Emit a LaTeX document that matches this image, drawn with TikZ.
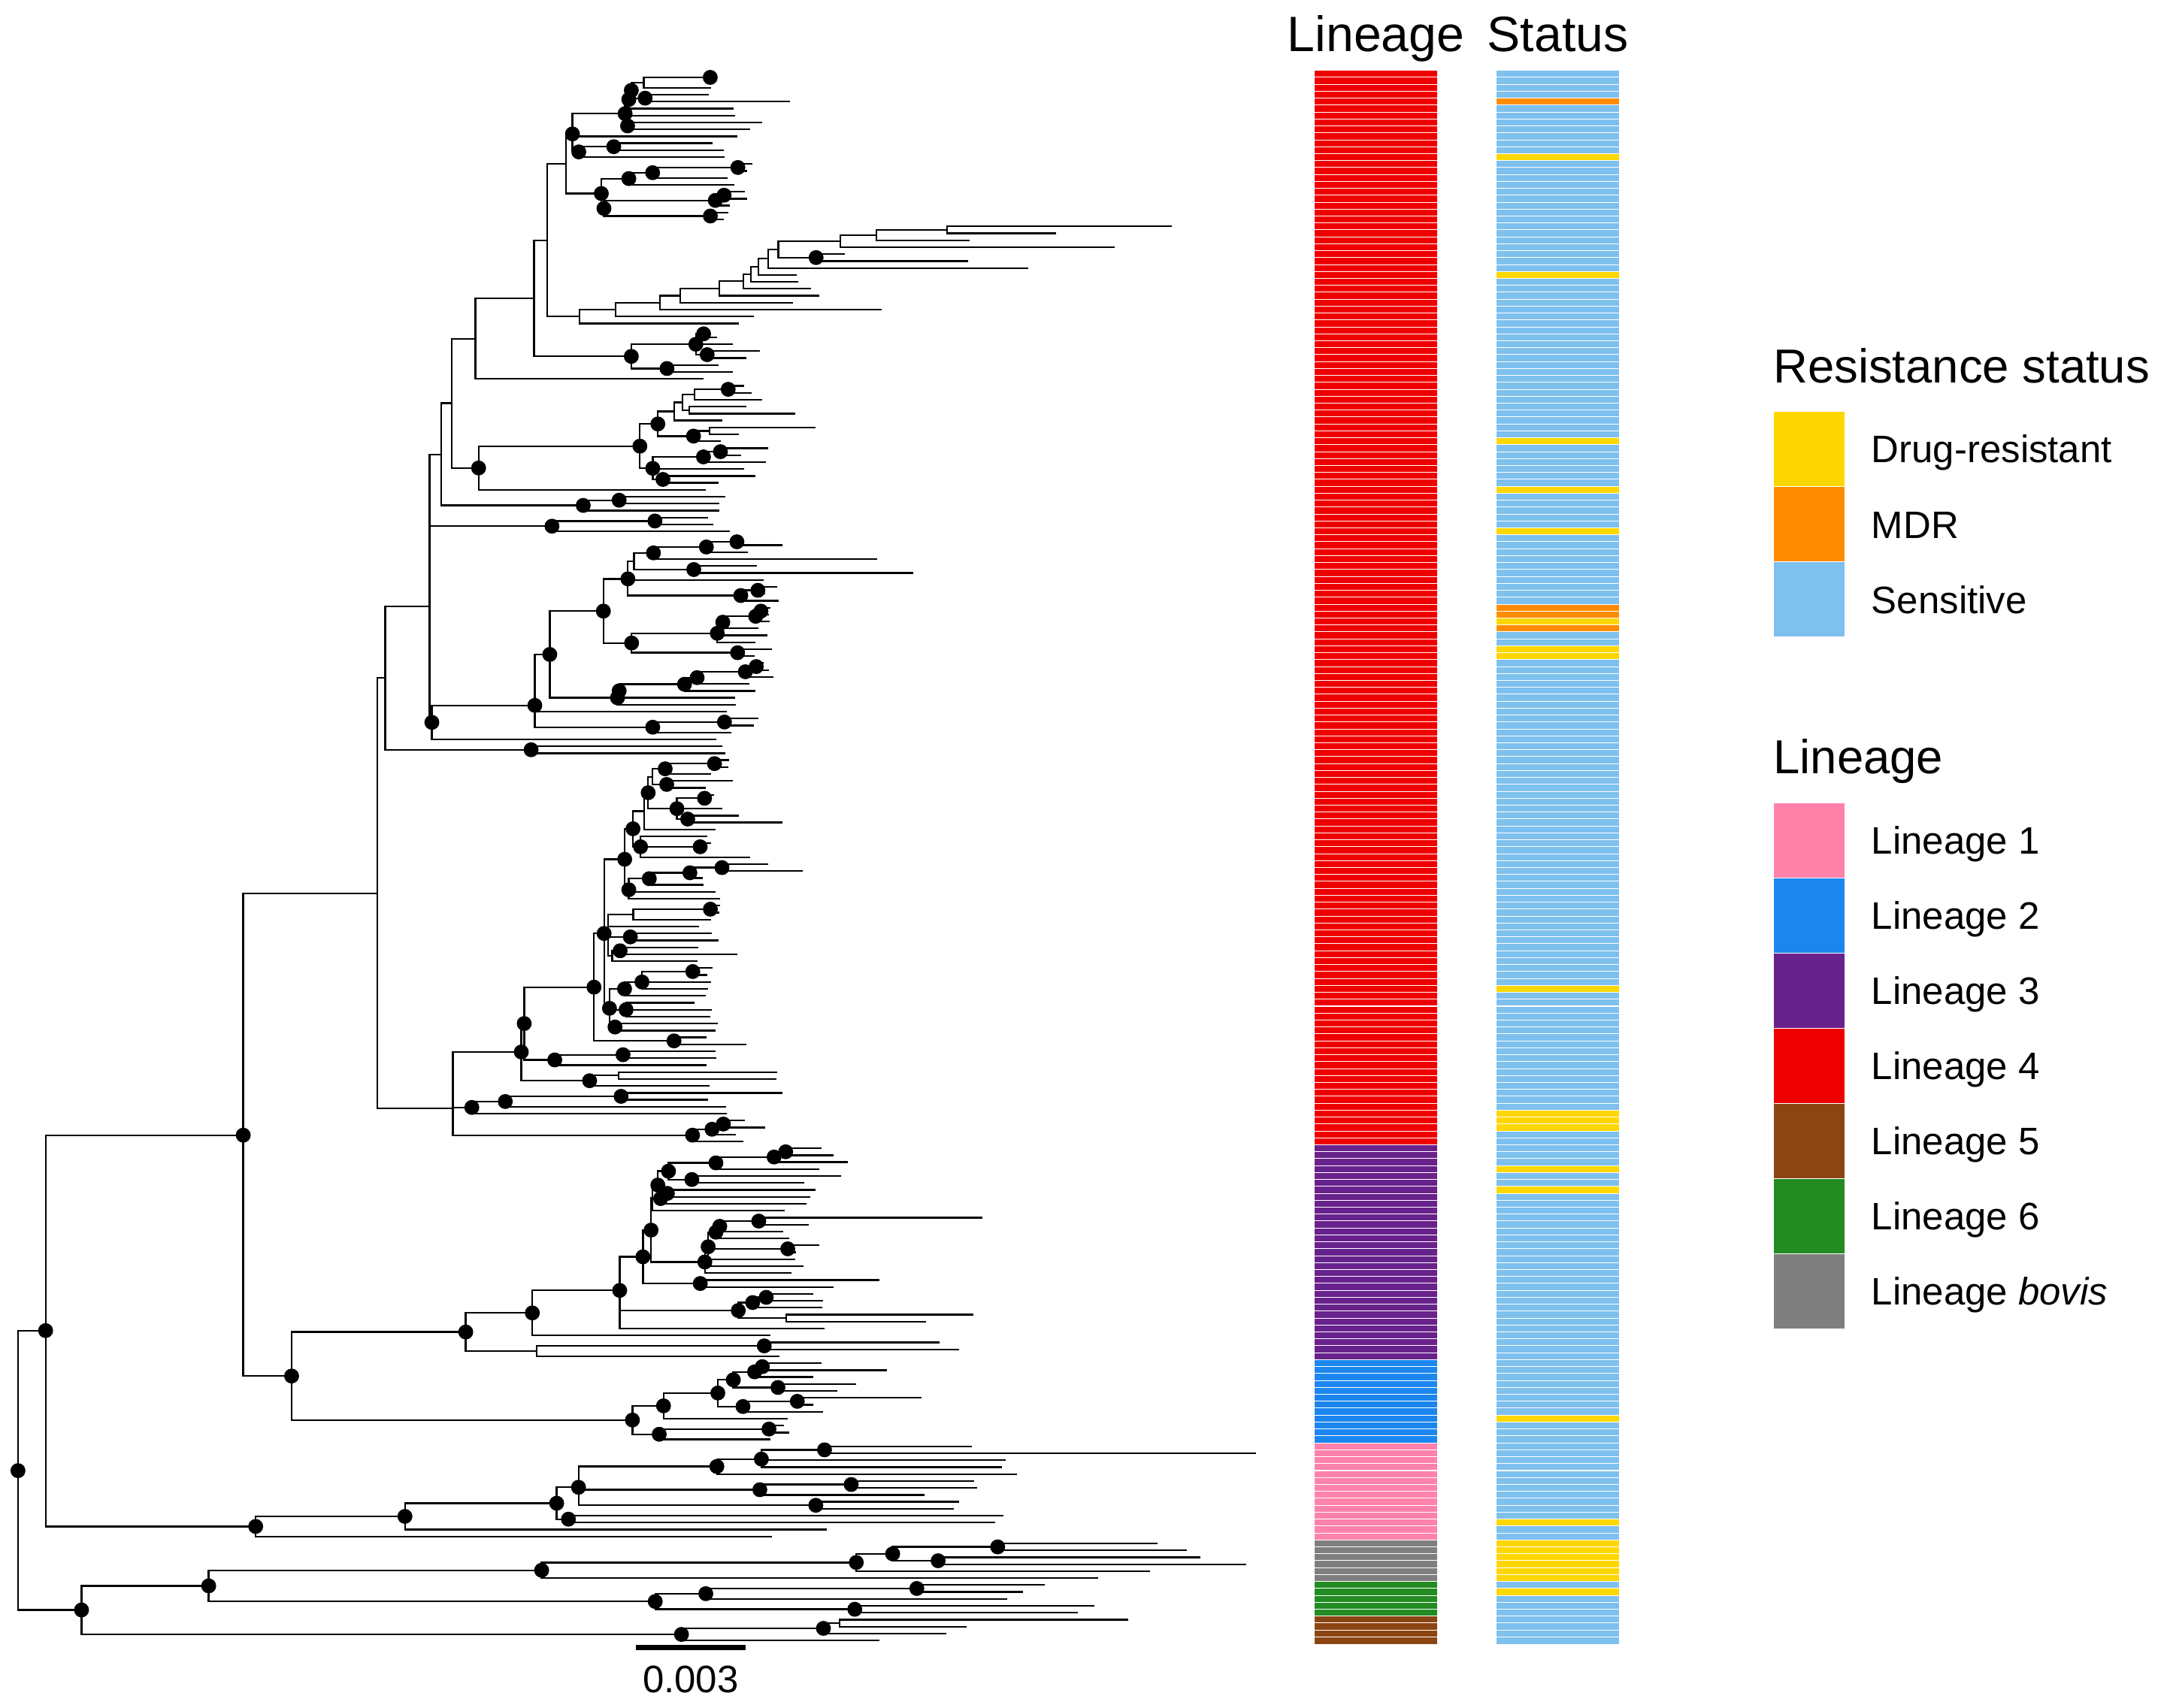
\documentclass[tikz,border=0pt]{standalone}
\usepackage{fontspec}
\setmainfont{Liberation Sans}
\definecolor{cLa}{HTML}{FF82AB}
\definecolor{cLb}{HTML}{1C86EE}
\definecolor{cLc}{HTML}{68228B}
\definecolor{cLd}{HTML}{EE0000}
\definecolor{cLe}{HTML}{8B4513}
\definecolor{cLf}{HTML}{228B22}
\definecolor{cLg}{HTML}{7F7F7F}
\definecolor{cDR}{HTML}{FFD700}
\definecolor{cMDR}{HTML}{FF8C00}
\definecolor{cSen}{HTML}{7EC0EE}
\tikzset{br/.style={line width=1.25pt,line cap=rect},
  sep/.style={white,line width=0.55pt},
  lbox/.style={draw=white,line width=0.6pt},
  ttl/.style={anchor=base west,inner sep=0pt,font=\fontsize{34.5}{40}\selectfont},
  hdr/.style={anchor=base,inner sep=0pt,font=\fontsize{36}{42}\selectfont},
  lab/.style={anchor=base west,inner sep=0pt,font=\fontsize{27.7}{32}\selectfont}}
\newcommand\Yr[1]{53.5+5.017*(#1)}
\newcommand\tp[3]{\draw[br] (#1,{\Yr{#3}}) -- (#2,{\Yr{#3}});}
\newcommand\nn[5]{\draw[br] (#1,{\Yr{#3}}) -- (#2,{\Yr{#3}}); \draw[br] (#2,{\Yr{#4}}) -- (#2,{\Yr{#5}});}
\newcommand\nd[5]{\nn{#1}{#2}{#3}{#4}{#5}\fill (#2,{\Yr{#3}}) circle[radius=5.4pt];}
\newcommand\Sy[1]{51+5.0166*(#1)}
\begin{document}
\begin{tikzpicture}[x=1pt,y=-1pt]
\useasboundingbox (0,0) rectangle (1568,1236);
% ---------- backbone ----------
\nd{13}{13}{201.5}{181.3}{221.6}
\nd{13}{33}{181.3}{153.1}{209.55}
\nd{13}{59}{221.6}{218.125}{225.125}
\nd{33}{176}{153.1}{118.2}{187.85}
\nd{33}{185}{209.55}{208.1}{211}
\nn{176}{273}{118.2}{87.15}{149.2}
\nd{176}{211}{187.85}{181.5}{194.2}
\nd{211}{337}{181.5}{178.75}{184.25}
\nd{211}{457.6}{194.2}{192.15}{196.25}
% ---------- bovis / L6 / L5 ----------
\nd{59}{151}{218.125}{215.875}{220.375}
\nd{59}{493.1}{225.125}{224.25}{226}
\nd{493.1}{595.8}{224.25}{223.5}{225}
\nn{595.8}{607.5}{223.5}{223}{224}
\tp{607.5}{815.9}{223}\tp{607.5}{698.9}{224}
\tp{595.8}{684.3}{225}\tp{493.1}{635.7}{226}
\nd{151}{391.9}{215.875}{214.75}{217}
\nd{391.9}{619.6}{214.75}{213.5}{216}
\nd{619.6}{645.9}{213.5}{212.5}{214.5}
\nd{645.9}{721.9}{212.5}{212}{213}
\tp{721.9}{836.7}{212}\tp{721.9}{857.9}{213}
\nd{645.9}{678.8}{214.5}{214}{215}
\tp{678.8}{868.1}{214}\tp{678.8}{901}{215}
\tp{619.6}{831.6}{216}\tp{391.9}{793.9}{217}
\nd{151}{474.1}{220.375}{219.25}{221.5}
\nd{474.1}{510.7}{219.25}{218.5}{220}
\nd{510.7}{663.4}{218.5}{218}{219}
\tp{663.4}{755.5}{218}\tp{663.4}{739.8}{219}
\tp{510.7}{728.1}{220}
\nd{474.1}{618.5}{221.5}{221}{222}
\tp{618.5}{791.4}{221}\tp{618.5}{779.3}{222}
% ---------- L1 ----------
\nd{185}{293}{208.1}{206.2}{210}
\tp{185}{558.2}{211}\tp{293}{597.7}{210}
\nd{293}{402.8}{206.2}{203.9}{208.5}
\nd{402.8}{411.3}{208.5}{208}{209}
\tp{411.3}{725.6}{208}\tp{411.3}{719.7}{209}
\nd{402.8}{418.6}{203.9}{200.9}{206.5}
\nd{418.6}{518.7}{200.9}{199.83}{202}
\nd{518.7}{550.9}{199.83}{198.5}{201}
\nd{550.9}{596.6}{198.5}{198}{199}
\tp{596.6}{702.6}{198}\tp{596.6}{908.3}{199}
\tp{550.9}{727}{200}\tp{550.9}{724.5}{201}
\tp{518.7}{735.5}{202}
\nd{418.6}{549.8}{204.25}{203.5}{205}
\nd{549.8}{615.9}{203.5}{203}{204}
\tp{615.9}{704.4}{203}\tp{615.9}{706.2}{204}
\tp{549.8}{668.6}{205}
\nd{418.6}{590.3}{206.5}{206}{207}
\tp{590.3}{693.4}{206}\tp{590.3}{689.8}{207}
% ---------- L2 ----------
\nd{457.6}{480.1}{192.15}{190.3}{194}
\tp{480.1}{569.1}{194}
\nd{480.1}{519.4}{190.3}{188.4}{192.25}
\nd{519.4}{530.6}{188.4}{187.25}{189.5}
\nd{530.6}{546}{187.25}{186.5}{188}
\nd{546}{551.6}{186.5}{186}{187}
\tp{551.6}{593.7}{186}\tp{551.6}{640.9}{187}
\tp{546}{588.1}{188}
\nd{530.6}{562.9}{189.5}{189}{190}
\tp{562.9}{619}{189}\tp{562.9}{605}{190}
\nd{519.4}{537.6}{192.25}{191.5}{193}
\nd{537.6}{576.9}{191.5}{191}{192}
\tp{576.9}{666.1}{191}\tp{576.9}{587.6}{192}
\tp{537.6}{595.1}{193}
\nd{457.6}{477}{196.25}{195.5}{197}
\nd{477}{556.4}{195.5}{195}{196}
\tp{556.4}{566.6}{195}\tp{556.4}{570.2}{196}
\tp{477}{557.1}{197}
% ---------- L3 ----------
\nd{337}{385.2}{178.75}{175.5}{182}
\tp{385.2}{556.7}{182}
\nd{385.2}{448.4}{175.5}{170.65}{181}
\tp{448.4}{596}{181}
\nd{448.4}{465.2}{170.65}{166.8}{174.5}
\nd{465.2}{471.1}{166.8}{162.15}{171.4}
\nn{471.1}{472}{162.15}{160.3}{164}
\tp{472}{567.1}{164}
\nd{472}{476}{160.3}{158.3}{162.25}
\nd{476}{483.7}{158.3}{157.1}{159.5}
\nd{483.7}{518}{157.1}{156.25}{158}
\nd{518}{560.1}{156.25}{155.5}{157}
\nd{560.1}{568.5}{155.5}{155}{156}
\tp{568.5}{593.7}{155}\tp{568.5}{602.7}{156}
\tp{560.1}{612.8}{157}\tp{518}{592.3}{158}
\nd{483.7}{500.6}{159.5}{159}{160}
\tp{500.6}{607.8}{159}\tp{500.6}{581.1}{160}
\nd{476}{478}{162.25}{161.5}{163}
\nd{478}{482.9}{161.5}{161}{162}
\tp{482.9}{589.5}{161}\tp{482.9}{585.9}{162}
\tp{478}{583.1}{163}
\nd{471.1}{510}{171.4}{169.2}{173}
\tp{510}{580.6}{172}\tp{510}{571.8}{173}
\nd{510}{512.4}{169.2}{167.1}{171}
\tp{512.4}{574.7}{171}
\nd{512.4}{518}{167.1}{166.25}{168}
\tp{518}{570.4}{168}
\nd{518}{520.8}{166.25}{165.5}{167}
\tp{520.8}{566.2}{167}
\nd{520.8}{549}{165.5}{165}{166}
\tp{549}{710.2}{165}\tp{549}{584.7}{166}
\nd{512.4}{570}{169.5}{169}{170}
\tp{570}{592.3}{169}\tp{570}{575.5}{170}
\nd{465.2}{506.7}{174.5}{174}{175}
\tp{506.7}{635.8}{174}\tp{506.7}{602.7}{175}
\nd{448.4}{534.2}{178.4}{177.25}{179.5}
\nd{534.2}{544.6}{177.25}{176.5}{178}
\nd{544.6}{554.4}{176.5}{176}{177}
\tp{554.4}{588.1}{176}\tp{554.4}{595.1}{177}
\tp{544.6}{594.6}{178}
\nn{534.2}{569}{179.5}{179}{180}
\tp{569}{703.7}{179}\tp{569}{669.5}{180}
\nn{337}{388.3}{184.25}{183.5}{185}
\tp{388.3}{563.4}{185}
\nd{388.3}{553}{183.5}{183}{184}
\tp{553}{679.3}{183}\tp{553}{693.3}{184}
% ---------- L4 upper ----------
\nn{273}{278.7}{87.15}{76.8}{97.5}
\nd{278.7}{384.3}{97.5}{97}{98}
\tp{384.3}{522}{97}\tp{384.3}{524.2}{98}
\nn{278.7}{310.9}{76.8}{54.9}{93.55}
\nn{310.9}{319.4}{54.9}{47.5}{62.25}
\nd{319.4}{422}{62.25}{61.5}{63}
\nd{422}{448}{61.5}{61}{62}
\tp{448}{524.2}{61}\tp{448}{520.1}{62}\tp{422}{520.1}{63}
\nn{319.4}{326.7}{47.5}{38.2}{56.85}
\nn{326.7}{344}{38.2}{32.4}{44}
\tp{344}{508.4}{44}
\nn{344}{386.4}{32.4}{24}{40.75}
\nn{386.4}{396}{24}{12.95}{35}
\nn{396}{409.7}{12.95}{8.66}{17.25}
\nd{409.7}{414.2}{8.66}{5.73}{11.25}
\tp{414.2}{533}{9}
\nd{414.2}{452.3}{5.73}{3.69}{7.5}
\nd{452.3}{455}{3.69}{2.375}{5}
\tp{455}{530.3}{5}
\nd{455}{456.8}{2.375}{1.25}{3.5}
\nn{456.8}{465.9}{1.25}{0.5}{2}
\nd{465.9}{513.9}{0.5}{0}{1}
\tp{513.9}{516.5}{0}\tp{513.9}{516.5}{1}\tp{465.9}{513.9}{2}
\nd{456.8}{466.8}{3.5}{3}{4}
\tp{466.8}{512.1}{3}\tp{466.8}{571.1}{4}
\tp{452.3}{531.2}{6}
\nd{452.3}{454.1}{7.5}{7}{8}
\tp{454.1}{551.1}{7}\tp{454.1}{542}{8}
\nd{414.2}{418.8}{11.25}{10.5}{12}
\nd{418.8}{444.1}{10.5}{10}{11}
\tp{444.1}{514.9}{10}\tp{444.1}{523}{11}\tp{418.8}{523.9}{12}
\nd{409.7}{435.1}{17.25}{15.1}{19.4}
\nd{435.1}{455}{15.1}{14.25}{16}
\tp{455}{530.8}{16}
\nd{455}{472.2}{14.25}{13.5}{15}
\tp{472.2}{525.7}{15}
\nd{472.2}{533.9}{13.5}{13}{14}
\tp{533.9}{543.9}{13}\tp{533.9}{540}{14}
\nd{435.1}{437}{19.4}{18.25}{20.5}
\nd{437}{517.6}{18.25}{17.5}{19}
\tp{517.6}{527.5}{19}
\nd{517.6}{523.9}{17.5}{17}{18}
\tp{523.9}{538.4}{17}\tp{523.9}{539.9}{18}
\nd{437}{514}{20.5}{20}{21}
\tp{514}{526.6}{20}\tp{514}{523}{21}
% long-branch ladder
\nn{396}{419.3}{35}{34}{36}\tp{419.3}{534.1}{36}
\nn{419.3}{445.6}{34}{33}{35}\tp{445.6}{545}{35}
\nn{445.6}{477.6}{33}{31.98}{34}\tp{477.6}{637.2}{34}
\nn{477.6}{492.2}{31.98}{30.95}{33}\tp{492.2}{573.1}{33}
\nn{492.2}{520.6}{30.95}{29.9}{32}\tp{520.6}{592.4}{32}
\nn{520.6}{537.7}{29.9}{28.9}{31}\tp{537.7}{586.2}{31}
\nn{537.7}{543.2}{28.9}{27.8}{30}\tp{543.2}{576.7}{30}
\nn{543.2}{548.6}{27.8}{26.65}{29}\tp{548.6}{576}{29}
\nn{548.6}{555.9}{26.65}{25.3}{28}\tp{555.9}{743.5}{28}
\nn{555.9}{563.2}{25.3}{24.1}{26.5}
\nd{563.2}{590.5}{26.5}{26}{27}
\tp{590.5}{610.6}{26}\tp{590.5}{699.8}{27}
\nn{563.2}{608}{24.1}{23.25}{25}\tp{608}{806.2}{25}
\nn{608}{634.3}{23.25}{22.5}{24}\tp{634.3}{700.9}{24}
\nn{634.3}{685.3}{22.5}{22}{23}
\tp{685.3}{847.4}{22}\tp{685.3}{763.6}{23}
% m-group
\nd{386.4}{456.8}{40.75}{39}{42.5}
\nd{456.8}{503.5}{39}{37.5}{40.5}
\nd{503.5}{509.1}{37.5}{37}{38}
\tp{509.1}{511.5}{37}\tp{509.1}{518.4}{38}\tp{503.5}{529.4}{39}
\nd{503.5}{511.7}{40.5}{40}{41}
\tp{511.7}{549}{40}\tp{511.7}{539.7}{41}
\nd{456.8}{482.6}{42.5}{42}{43}
\tp{482.6}{519.5}{42}\tp{482.6}{529.4}{43}
% X57 group
\nd{326.7}{346.3}{56.85}{53.7}{60}
\tp{346.3}{509.9}{60}
\nd{346.3}{463}{53.7}{50.5}{56.9}
\nd{463}{476}{50.5}{48.7}{52.25}
\nn{476}{488}{48.7}{47.4}{50}\tp{488}{522}{50}
\nn{488}{493.7}{47.4}{46.25}{48.5}
\nn{493.7}{502.5}{46.25}{45.5}{47}
\nd{502.5}{526.9}{45.5}{45}{46}
\tp{526.9}{537.9}{45}\tp{526.9}{543.4}{46}\tp{502.5}{550.8}{47}
\nn{493.7}{498.8}{48.5}{48}{49}
\tp{498.8}{539.4}{48}\tp{498.8}{574.7}{49}
\nd{476}{501.8}{52.25}{51.5}{53}
\nn{501.8}{513.6}{51.5}{51}{52}
\tp{513.6}{589.5}{51}\tp{513.6}{534.2}{52}\tp{501.8}{520.9}{53}
\nd{463}{472.3}{56.9}{55.25}{58.5}
\nd{472.3}{509}{55.25}{54.5}{56}
\nd{509}{521.3}{54.5}{54}{55}
\tp{521.3}{555.2}{54}\tp{521.3}{535.7}{55}\tp{509}{553.4}{56}
\tp{472.3}{537.9}{57}
\nd{472.3}{479.7}{58.5}{58}{59}
\tp{479.7}{546}{58}\tp{479.7}{519.1}{59}
% X65
\nd{310.9}{399.4}{65.25}{64.5}{66}
\nd{399.4}{473.9}{64.5}{64}{65}
\tp{473.9}{511.8}{64}\tp{473.9}{515.6}{65}\tp{399.4}{527.6}{66}
% Y94
\nd{310.9}{312.5}{93.55}{91.1}{96}
\tp{312.5}{517.9}{96}
\nd{312.5}{387}{91.1}{83.75}{94.25}
\tp{387}{525.3}{92}
\nd{387}{472.3}{94.25}{93.5}{95}
\nd{472.3}{524.2}{93.5}{93}{94}
\tp{524.2}{548.4}{93}\tp{524.2}{545}{94}\tp{472.3}{528.7}{95}
\nd{387}{397.8}{83.75}{77.5}{90}
\nd{397.8}{446.8}{90}{89}{91}
\tp{446.8}{531.9}{91}
\nd{446.8}{448}{89}{88.05}{90}
\tp{448}{531.4}{90}
\nd{448}{495.3}{88.05}{87.1}{89}
\tp{495.3}{546.1}{89}
\nd{495.3}{504.4}{87.1}{86.25}{88}
\tp{504.4}{541.6}{88}
\nd{504.4}{539.3}{86.25}{85.5}{87}
\tp{539.3}{559.2}{87}
\nd{539.3}{547.2}{85.5}{85}{86}
\tp{547.2}{552}{85}\tp{547.2}{556}{86}
\nd{397.8}{436.6}{77.5}{72.85}{82.1}
\nd{436.6}{454.3}{72.85}{70.3}{75.25}
\tp{454.3}{552.2}{73}
\nn{454.3}{458.8}{70.3}{69.1}{71.5}
\nd{458.8}{472.8}{69.1}{68.25}{70}
\tp{472.8}{634}{70}
\nd{472.8}{511.1}{68.25}{67.5}{69}
\tp{511.1}{540.5}{69}
\nd{511.1}{533.2}{67.5}{67}{68}
\tp{533.2}{536}{67}\tp{533.2}{565.3}{68}
\nd{458.8}{502}{71.5}{71}{72}
\tp{502}{546.8}{71}\tp{502}{660}{72}
\nd{454.3}{536}{75.25}{74.5}{76}
\tp{536}{563}{76}
\nd{536}{548.4}{74.5}{74}{75}
\tp{548.4}{561.9}{74}\tp{548.4}{553}{75}
\nd{436.6}{457}{82.1}{80.7}{83.5}
\nd{457}{533.7}{83.5}{83}{84}
\tp{533.7}{557.8}{83}\tp{533.7}{545.4}{84}
\nd{457}{519}{80.7}{79.1}{82}
\tp{519}{554.5}{81}\tp{519}{546.1}{82}
\nd{519}{523}{79.1}{78.25}{80}
\tp{523}{548}{80}
\nd{523}{546.8}{78.25}{77.5}{79}
\tp{546.8}{556.3}{79}
\nd{546.8}{550.6}{77.5}{77}{78}
\tp{550.6}{557}{77}\tp{550.6}{556}{78}
% ---------- L4 lower ----------
\nn{273}{327.7}{149.2}{141.1}{153.1}
\nd{327.7}{377.2}{141.1}{137}{145.25}
\nd{377.2}{379.3}{137}{131.75}{142.25}
\nd{379.3}{429.8}{131.75}{124}{139.5}
\nd{429.8}{487.7}{139.5}{139}{140}
\tp{487.7}{510.4}{139}\tp{487.7}{539.7}{140}
\nd{429.8}{437.1}{124}{113.3}{134.8}
\nd{437.1}{452}{113.3}{108.9}{117.7}
\nd{452}{458}{108.9}{106.35}{111.5}
\nn{458}{466}{106.35}{103.7}{109}
\tp{466}{517.1}{109}
\nd{466}{469}{103.7}{101.4}{106}
\nn{469}{472}{101.4}{100.25}{102.5}
\nd{472}{481.3}{100.25}{99.5}{101}
\nd{481.3}{517}{99.5}{99}{100}
\tp{517}{527}{99}\tp{517}{526.6}{100}\tp{481.3}{514}{101}
\nd{472}{482.4}{102.5}{102}{103}
\tp{482.4}{529.8}{102}\tp{482.4}{509.8}{103}
\nd{469}{489.8}{106}{104.5}{107.5}
\nd{489.8}{509.8}{104.5}{104}{105}
\tp{509.8}{516}{104}\tp{509.8}{512}{105}\tp{489.8}{522}{106}
\nd{489.8}{497.6}{107.5}{107}{108}
\tp{497.6}{534}{107}\tp{497.6}{565.5}{108}
\nd{458}{463.5}{111.5}{110}{113}
\tp{463.5}{511.4}{110}\tp{463.5}{542.4}{113}
\nd{463.5}{506.6}{111.5}{111}{112}
\tp{506.6}{514}{111}\tp{506.6}{510}{112}
\nd{452}{455}{117.7}{116.1}{119}
\tp{455}{517.1}{118}\tp{455}{520.3}{119}
\nd{455}{469.8}{116.1}{115.25}{117}
\tp{469.8}{508.7}{117}
\nd{469.8}{499.2}{115.25}{114.5}{116}
\tp{499.2}{507.7}{116}
\nd{499.2}{522.4}{114.5}{114}{115}
\tp{522.4}{555}{114}\tp{522.4}{580.3}{115}
\nn{437.1}{440}{124}{121.25}{127.25}
\tp{440}{505}{123}
\nn{440}{458.2}{121.25}{120.5}{122}
\tp{458.2}{513.9}{122}
\nd{458.2}{514}{120.5}{120}{121}
\tp{514}{520.3}{120}\tp{514}{520}{121}
\nd{440}{456.1}{124.5}{124}{125}
\tp{456.1}{514.4}{124}\tp{456.1}{519.2}{125}
\nn{440}{443}{127.25}{126.5}{128}
\tp{443}{504.1}{128}
\nd{443}{448.7}{126.5}{126}{127}
\tp{448.7}{504.5}{126}\tp{448.7}{532.9}{127}
\nd{437.1}{441}{134.8}{132}{137.5}
\nd{441}{451.9}{132}{131}{133}
\tp{451.9}{509.8}{133}
\nd{451.9}{464.5}{131}{129.5}{132}
\tp{464.5}{514}{131}\tp{464.5}{511.9}{132}
\nd{464.5}{501.3}{129.5}{129}{130}
\tp{501.3}{515}{129}\tp{501.3}{511}{130}
\nd{441}{453}{135}{134}{136}
\tp{453}{501.8}{134}\tp{453}{514.4}{135}\tp{453}{513.6}{136}
\nd{441}{445}{137.5}{137}{138}
\tp{445}{518.6}{137}\tp{445}{517.1}{138}
\nd{379.3}{401.4}{142.25}{141.5}{143}
\tp{401.4}{510.4}{143}
\nd{401.4}{450.8}{141.5}{141}{142}
\tp{450.8}{517.1}{141}\tp{450.8}{517.8}{142}
\nd{377.2}{426.6}{145.25}{144.5}{146}
\tp{426.6}{512.9}{146}
\nn{426.6}{447.7}{144.5}{144}{145}
\tp{447.7}{562}{144}\tp{447.7}{561.3}{145}
\nd{327.7}{341.4}{149.1}{148.25}{150}
\tp{341.4}{525.5}{150}
\nd{341.4}{365.6}{148.25}{147.5}{149}
\tp{365.6}{524.5}{149}
\nd{365.6}{449.4}{147.5}{147}{148}
\tp{449.4}{565.5}{147}\tp{449.4}{511.9}{148}
\nd{327.7}{501.1}{153.1}{152.25}{154}
\tp{501.1}{537}{154}
\nd{501.1}{515.2}{152.25}{151.5}{153}
\tp{515.2}{532}{153}
\nd{515.2}{523.4}{151.5}{151}{152}
\tp{523.4}{538.2}{151}\tp{523.4}{552.9}{152}
% ---------- scale bar ----------
\draw[line width=3.5pt] (460,1192.5) -- (539.5,1192.5);
\node[anchor=base,inner sep=0pt,font=\fontsize{27.7}{32}\selectfont] (scl) at (499.7,1225) {0.003};
% ---------- lineage strip ----------
\fill[cLd] (951.3,{\Sy{0}}) rectangle (1039.9,{\Sy{155}});
\fill[cLc] (951.3,{\Sy{155}}) rectangle (1039.9,{\Sy{186}});
\fill[cLb] (951.3,{\Sy{186}}) rectangle (1039.9,{\Sy{198}});
\fill[cLa] (951.3,{\Sy{198}}) rectangle (1039.9,{\Sy{212}});
\fill[cLg] (951.3,{\Sy{212}}) rectangle (1039.9,{\Sy{218}});
\fill[cLf] (951.3,{\Sy{218}}) rectangle (1039.9,{\Sy{223}});
\fill[cLe] (951.3,{\Sy{223}}) rectangle (1039.9,{\Sy{227}});
% ---------- status strip ----------
\fill[cSen] (1082.9,{\Sy{0}}) rectangle (1171.5,{\Sy{227}});
\foreach \i in {12,29,53,60,66,79,83,84,132,150,151,152,158,161,194,209,212,213,214,215,216,217,219}
  {\fill[cDR] (1082.9,{\Sy{\i}}) rectangle (1171.5,{\Sy{\i+1}});}
\foreach \i in {4,77,78,80}
  {\fill[cMDR] (1082.9,{\Sy{\i}}) rectangle (1171.5,{\Sy{\i+1}});}
\foreach \i in {1,...,226}{
  \draw[sep] (951.3,{\Sy{\i}}) -- (1039.9,{\Sy{\i}});
  \draw[sep] (1082.9,{\Sy{\i}}) -- (1171.5,{\Sy{\i}});}
\node[hdr] (hlin) at (995.6,37) {Lineage};
\node[hdr] (hsta) at (1127.2,37) {Status};
% ---------- legends ----------
\node[ttl] (tres) at (1283,277) {Resistance status};
\fill[cDR,lbox] (1283,298) rectangle (1335,352.3);
\fill[cMDR,lbox] (1283,352.3) rectangle (1335,406.7);
\fill[cSen,lbox] (1283,406.7) rectangle (1335,461);
\node[lab] (ldr) at (1354,335) {Drug-resistant};
\node[lab] (lmdr) at (1354,389.5) {MDR};
\node[lab] (lsen) at (1354,444) {Sensitive};
\node[ttl] (tlin) at (1283,560) {Lineage};
\fill[cLa,lbox] (1283,581) rectangle (1335,635.4);
\fill[cLb,lbox] (1283,635.4) rectangle (1335,689.9);
\fill[cLc,lbox] (1283,689.9) rectangle (1335,744.3);
\fill[cLd,lbox] (1283,744.3) rectangle (1335,798.7);
\fill[cLe,lbox] (1283,798.7) rectangle (1335,853.1);
\fill[cLf,lbox] (1283,853.1) rectangle (1335,907.6);
\fill[cLg,lbox] (1283,907.6) rectangle (1335,962);
\node[lab] (l1) at (1354,618.1) {Lineage 1};
\node[lab] (l2) at (1354,672.6) {Lineage 2};
\node[lab] (l3) at (1354,727) {Lineage 3};
\node[lab] (l4) at (1354,781.4) {Lineage 4};
\node[lab] (l5) at (1354,835.8) {Lineage 5};
\node[lab] (l6) at (1354,890.3) {Lineage 6};
\node[lab] (l7) at (1354,944.7) {Lineage \textit{bovis}};
\end{tikzpicture}
\end{document}
